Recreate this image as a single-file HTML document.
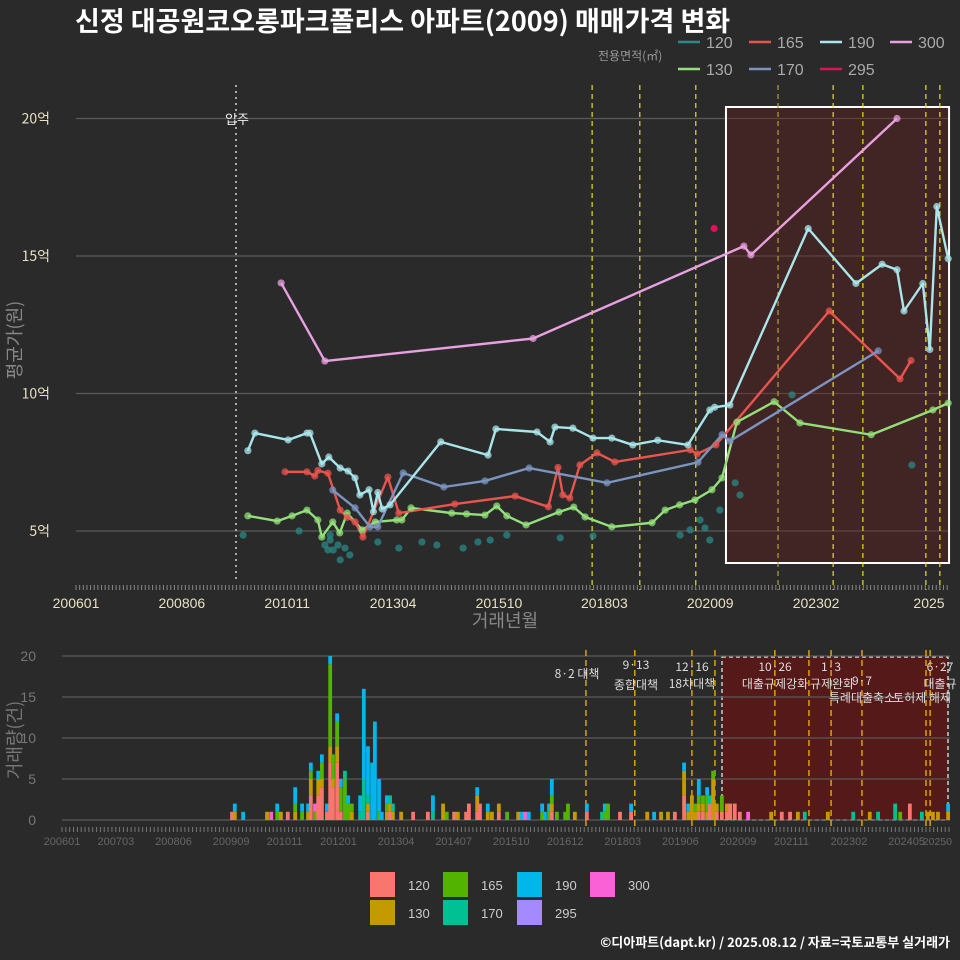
<!DOCTYPE html>
<html><head><meta charset="utf-8">
<style>
html,body{margin:0;padding:0;background:#2a2a2a;}
svg{display:block;font-family:"Liberation Sans","Noto Sans CJK KR",sans-serif;}
</style></head>
<body>
<svg id="c" width="960" height="960" viewBox="0 0 960 960">
<rect x="0" y="0" width="960" height="960" fill="#2a2a2a"/>
<text x="75" y="31" font-size="27" font-weight="bold" fill="#fff" font-family="'Noto Sans CJK KR',sans-serif">신정 대공원코오롱파크폴리스 아파트(2009) 매매가격 변화</text>
<g id="topPanel"></g>
<g id="botPanel"></g>
<text x="950" y="947" font-size="13" font-weight="bold" fill="#fff" text-anchor="end" font-family="'Noto Sans CJK KR',sans-serif">©디아파트(dapt.kr) / 2025.08.12 / 자료=국토교통부 실거래가</text>
</svg>
<script>
// ---------- price chart data ----------
const sizes = ["120","130","165","170","190","295","300"];
const lineColors = ["#2a8a86","#93e07a","#e8544e","#7b94c0","#a8e6ea","#e0105a","#e8a0e0"];
const priceTicks = [5,10,15,20];
const priceTickLabels = ["5억","10억","15억","20억"];
const xTickT = [2006.0,2008.42,2010.83,2013.25,2015.67,2018.08,2020.5,2022.92,2025.33];
const xTickLabels = ["200601","200806","201011","201304","201510","201803","202009","202302","2025"];
const t300 = [2010.69,2011.69,2016.45,2021.27,2021.43,2024.77];
const p300 = [14.02,11.18,12.0,15.36,15.04,20.0];
const t190 = [2009.93,2010.09,2010.85,2011.28,2011.35,2011.62,2011.78,2012.04,2012.22,2012.38,2012.49,2012.7,2012.8,2012.9,2013.0,2013.18,2014.34,2015.42,2015.6,2016.54,2016.84,2016.95,2017.36,2017.82,2018.25,2018.73,2019.3,2019.99,2020.49,2020.6,2020.95,2022.74,2023.83,2024.43,2024.77,2024.93,2025.36,2025.52,2025.68,2025.94];
const p190 = [7.92,8.56,8.31,8.56,8.56,7.44,7.69,7.29,7.18,6.93,6.31,6.5,5.7,6.4,5.8,5.95,8.24,7.76,8.71,8.6,8.24,8.78,8.74,8.38,8.38,8.13,8.3,8.13,9.4,9.5,9.58,16.0,14.0,14.7,14.5,13.0,14.0,11.6,16.8,14.9];
const t165 = [2010.78,2011.28,2011.46,2011.53,2011.76,2012.04,2012.2,2012.38,2012.56,2013.13,2013.38,2014.66,2016.04,2016.8,2017.02,2017.13,2017.29,2017.52,2017.91,2018.32,2020.04,2020.2,2020.63,2023.22,2024.84,2025.09];
const p165 = [7.15,7.15,7.0,7.2,7.1,5.76,5.5,5.33,4.78,6.96,5.65,5.98,6.27,5.88,7.31,6.31,6.2,7.4,7.84,7.51,7.95,7.8,8.13,13.0,10.53,11.2];
const t170 = [2011.87,2012.38,2012.72,2012.9,2013.48,2014.41,2015.35,2016.36,2018.14,2020.22,2020.77,2020.95,2024.34];
const p170 = [6.49,5.84,5.15,5.15,7.11,6.6,6.82,7.29,6.75,7.5,8.5,8.27,11.55];
const t130 = [2009.93,2010.6,2010.94,2011.28,2011.53,2011.62,2011.87,2012.03,2012.2,2012.54,2012.84,2013.33,2013.45,2013.66,2014.59,2014.93,2015.35,2015.62,2015.85,2016.29,2017.04,2017.38,2017.64,2018.25,2019.17,2019.47,2019.8,2020.15,2020.54,2020.77,2021.11,2021.96,2022.55,2024.18,2025.59,2025.94];
const p130 = [5.55,5.36,5.55,5.76,5.4,4.78,5.33,4.93,5.65,5.04,5.33,5.4,5.4,5.84,5.65,5.62,5.58,5.91,5.55,5.22,5.69,5.87,5.51,5.15,5.3,5.76,5.95,6.13,6.5,6.93,8.96,9.7,8.93,8.5,9.4,9.65];
const t120 = [2009.82,2011.1,2011.69,2011.81,2011.88,2011.99,2012.04,2012.15,2012.26,2011.76,2011.81,2012.9,2013.38,2013.91,2014.25,2014.85,2015.19,2015.47,2015.85,2017.07,2017.82,2019.81,2020.04,2020.27,2020.38,2020.49,2020.72,2021.07,2022.37,2021.18,2025.11];
const p120 = [4.85,5.0,4.49,4.67,4.31,4.49,3.95,4.38,4.13,4.31,4.85,4.6,4.38,4.6,4.49,4.38,4.6,4.67,4.85,4.75,4.82,4.85,5.04,5.4,5.11,4.67,5.76,6.75,9.95,6.31,7.4];
const t295 = [2020.59];
const p295 = [16.0];
const topEventT = [2017.8,2018.89,2020.17,2022.05,2023.31,2023.99,2025.43,2025.75];

// ---------- volume chart data ----------
const volTicks = [0,5,10,15,20];
const volTickLabels = ["0","5","10","15","20"];
const volXT = [2006.0,2007.17,2008.42,2009.67,2010.83,2012.0,2013.25,2014.5,2015.75,2016.92,2018.17,2019.42,2020.67,2021.83,2023.08,2024.33];
const volXLabels = ["200601","200703","200806","200909","201011","201201","201304","201407","201510","201612","201803","201906","202009","202111","202302","202405"];
const barT = [2009.69,2009.75,2009.93,2010.45,2010.54,2010.67,2010.75,2010.9,2011.06,2011.21,2011.34,2011.4,2011.49,2011.56,2011.64,2011.75,2011.82,2011.88,2011.97,2012.05,2012.14,2012.21,2012.29,2012.47,2012.55,2012.64,2012.73,2012.79,2012.88,2012.94,2013.05,2013.12,2013.18,2013.36,2013.62,2013.94,2014.05,2014.27,2014.35,2014.51,2014.59,2014.77,2014.83,2015.01,2015.07,2015.24,2015.33,2015.48,2015.66,2015.9,2015.98,2016.05,2016.13,2016.42,2016.48,2016.57,2016.63,2016.74,2016.92,2016.98,2017.13,2017.39,2017.72,2017.78,2017.85,2018.11,2018.35,2018.7,2018.85,2019.0,2019.15,2019.3,2019.5,2019.59,2019.67,2019.74,2019.82,2019.91,2020.0,2020.06,2020.13,2020.21,2020.32,2020.43,2020.5,2020.6,2020.71,2020.89,2021.39,2021.62,2021.8,2021.97,2022.12,2022.62,2023.17,2023.53,2023.71,2024.08,2024.19,2024.4,2024.66,2024.79,2024.9,2025.01,2025.23];
const v120 = [1,0,0,0,0,0,0,1,0,0,0,3,0,3,4,1,7,4,7,1,0,0,0,0,0,1,0,0,0,0,0,1,0,0,1,1,0,0,0,1,0,1,2,1,2,0,0,1,0,0,0,0,0,0,0,0,1,0,0,0,0,1,0,0,0,1,1,0,0,0,0,1,3,0,0,0,1,1,0,2,0,1,1,1,2,2,1,0,0,1,1,0,0,0,0,0,0,0,0,2,0,0,0,0,0];
const v130 = [0,1,0,1,0,0,1,0,1,0,1,2,0,2,1,0,2,1,2,0,0,0,1,0,0,1,0,0,0,0,1,1,1,1,0,0,0,2,0,0,1,0,0,2,0,1,1,1,0,1,0,0,0,0,0,0,1,0,0,0,1,0,0,0,0,0,0,1,0,1,1,0,3,1,3,1,1,1,1,0,5,1,0,1,0,0,0,0,1,0,0,1,0,1,0,1,0,0,0,0,0,1,1,1,1];
const v165 = [0,0,0,0,0,1,0,0,1,1,0,1,1,0,2,0,10,3,3,3,5,2,1,0,0,0,0,0,1,0,1,0,0,0,0,0,0,0,1,0,0,0,0,0,0,0,0,0,1,0,0,0,0,1,0,1,1,1,1,2,0,0,0,1,2,0,0,0,0,0,0,0,0,0,0,1,1,1,2,0,1,0,2,0,0,0,0,0,0,0,0,0,0,0,0,0,0,0,1,0,0,0,0,0,0];
const v170 = [0,0,0,0,0,0,0,0,0,0,0,0,0,0,0,0,0,0,0,0,1,0,0,1,5,1,0,0,0,0,0,1,1,0,0,0,1,0,0,0,0,0,0,0,0,0,0,0,0,0,0,0,0,0,0,0,0,0,0,0,0,0,1,0,0,0,0,0,0,0,0,0,0,0,0,0,0,0,0,1,0,0,0,0,0,0,0,0,0,0,0,0,1,0,1,0,1,2,0,0,1,0,0,0,0];
const v190 = [0,1,1,0,0,1,0,0,2,1,1,1,0,1,1,1,1,0,1,1,0,1,0,2,11,6,7,12,4,1,1,0,0,0,0,0,2,0,0,0,0,0,0,1,0,1,0,0,0,0,1,0,1,1,1,1,2,0,0,0,0,1,0,1,0,0,1,0,1,0,0,0,1,1,0,0,2,0,1,0,0,0,0,0,0,0,0,0,0,0,0,0,0,0,0,0,0,0,0,0,0,0,0,0,1];
const v295 = new Array(barT.length).fill(0);
const v300 = [0,0,0,0,1,0,0,0,0,0,0,0,1,0,0,0,0,0,0,0,0,0,0,0,0,0,0,0,0,0,0,0,0,0,0,0,0,0,0,0,0,0,0,0,0,0,0,0,0,0,0,1,0,0,0,0,0,0,0,0,0,0,0,0,0,0,0,0,0,0,0,0,0,0,0,0,0,0,0,0,0,0,0,0,0,0,0,1,0,0,0,0,0,0,0,0,0,0,0,0,0,0,0,0,0];
const barColors = ["#f8766d","#c49a00","#53b400","#00c094","#00b6eb","#a58aff","#fb61d7"];
const botEventT = [2017.37,2018.43,2019.67,2020.17,2021.47,2022.21,2022.69,2023.36,2024.75,2024.84];

const NS="http://www.w3.org/2000/svg";
function mk(parent,tag,attrs,text){const e=document.createElementNS(NS,tag);for(const k in attrs)e.setAttribute(k,attrs[k]);if(text!==undefined)e.textContent=text;parent.appendChild(e);return e;}
const KR="'Noto Sans CJK KR','Liberation Sans',sans-serif";

// ---------- top panel ----------
const topG=document.getElementById('topPanel');
const X=t=>76+(t-2006)*43.74;
const Y=v=>531-(v-5)*27.5;
priceTicks.forEach((v,i)=>{
  const g=mk(topG,'line',{x1:76,x2:950,y1:Y(v),y2:Y(v),stroke:'#5a5a5a','stroke-width':1.2});
  
  
  const l=mk(topG,'text',{x:50,y:Y(v)+5,'font-size':14,fill:'#e8e2c0','text-anchor':'end','font-family':KR},priceTickLabels[i]);
  
  
});
const rct=mk(topG,'rect',{x:X(2020.86),y:107,width:X(2025.96)-X(2020.86),height:456,fill:'rgba(110,25,25,0.35)',stroke:'#fff','stroke-width':2});


const mv=mk(topG,'line',{x1:236,x2:236,y1:85,y2:580,stroke:'#aaa','stroke-width':2,'stroke-dasharray':'2,4'});


const mvl=mk(topG,'text',{x:237,y:124,'font-size':13,fill:'#eee','text-anchor':'middle','font-family':KR},'입주');


topEventT.forEach((t,i)=>{
  const l=mk(topG,'line',{x1:X(t),x2:X(t),y1:85,y2:590,stroke:(i==3?'#a8a830':'#e8e020'),'stroke-width':1.2,'stroke-dasharray':'5,4'});
  
  
});
for(let m=0;m<=240;m++){
  const x=X(2006+m/12); if(x>950)break;
  mk(topG,'line',{x1:x,x2:x,y1:585,y2:590,stroke:'#888','stroke-width':1});
}
xTickT.forEach((t,i)=>{
  const l=mk(topG,'text',{x:i==8?929:X(t),y:608,'font-size':14,fill:'#e8e2c0','text-anchor':'middle'},xTickLabels[i]);
  
  
});
const xt=mk(topG,'text',{x:505,y:627,'font-size':18,fill:'#888','text-anchor':'middle','font-family':KR},'거래년월');


const yt=mk(topG,'text',{x:0,y:0,'font-size':18,fill:'#888','text-anchor':'middle','font-family':KR,transform:'translate(21,340) rotate(-90)'},'평균가(원)');


const allT=[t120,t130,t165,t170,t190,t295,t300], allP=[p120,p130,p165,p170,p190,p295,p300];
[1,2,3,4,6].forEach(k=>{
  const pts=allT[k].map((t,i)=>X(t)+','+Y(allP[k][i])).join(' ');
  const pl=mk(topG,'polyline',{points:pts,fill:'none',stroke:lineColors[k],'stroke-width':2.4,'stroke-linejoin':'round'});
  
  
});
[0,1,2,3,4,5,6].forEach(k=>{
  allT[k].forEach((t,i)=>{
    const c=mk(topG,'circle',{cx:X(t),cy:Y(allP[k][i]),r:3.6,fill:lineColors[k],'fill-opacity':k==5?1:0.75});
    
    
  });
});
const lt=mk(topG,'text',{x:598,y:60,'font-size':12,fill:'#999','font-family':KR},'전용면적(㎡)');


const legPos=[[678,42],[678,69],[749,42],[749,69],[820,42],[820,69],[890,42]];
sizes.forEach((s,k)=>{
  const [x,y]=legPos[k];
  const g=mk(topG,'g',{});
  
  
  mk(g,'line',{x1:x,x2:x+22,y1:y,y2:y,stroke:lineColors[k],'stroke-width':2.5});
  mk(g,'text',{x:x+28,y:y+6,'font-size':16,fill:'#aaa'},s);
});

// ---------- bottom panel ----------
const botG=document.getElementById('botPanel');
const BX=t=>62+(t-2006)*46.08;
const BY=v=>820-v*8.2;
const brct=mk(botG,'rect',{x:722,y:657,width:226,height:163,fill:'rgba(100,20,20,0.75)',stroke:'#ccc','stroke-width':1.5,'stroke-dasharray':'4,3'});


volTicks.forEach((v,i)=>{
  const g=mk(botG,'line',{x1:62,x2:950,y1:BY(v),y2:BY(v),stroke:'#5a5a5a','stroke-width':1.2});
  
  
  const l=mk(botG,'text',{x:36,y:BY(v)+5,'font-size':14,fill:'#777','text-anchor':'end'},volTickLabels[i]);
  
  
});
botEventT.forEach(t=>{
  const l=mk(botG,'line',{x1:BX(t),x2:BX(t),y1:650,y2:828,stroke:'#e0a000','stroke-width':1.5,'stroke-dasharray':'6,4'});
  
  
});
const vals=[v120,v130,v165,v170,v190,v295,v300];
barT.forEach((t,i)=>{
  let acc=0;
  for(let k=0;k<7;k++){
    const v=vals[k][i]; if(!v)continue;
    const r=mk(botG,'rect',{x:BX(t)-1.9,y:BY(acc+v),width:3.8,height:v*8.2,fill:barColors[k]});
    
    
    acc+=v;
  }
});
const evLabels=[[577,678,'8·2 대책'],[636,669,'9·13'],[636,689,'종합대책'],[692,671,'12·16'],[692,688,'18차대책'],[775,671,'10·26'],[775,688,'대출규제강화'],[831,671,'1·3'],[832,688,'규제완화'],[862,685,'9·7'],[862,702,'특례대출축소'],[922,702,'토허제 해제'],[940,671,'6·27'],[940,688,'대출규']];
evLabels.forEach(([x,y,s])=>{
  const l=mk(botG,'text',{x:x,y:y,'font-size':12,fill:'#ddd','text-anchor':'middle','font-family':KR},s);
  
  
});
for(let m=0;m<=236;m++){
  const x=BX(2006+m/12); if(x>950)break;
  mk(botG,'line',{x1:x,x2:x,y1:827,y2:832,stroke:'#777','stroke-width':1});
}
volXT.forEach((t,i)=>{
  const l=mk(botG,'text',{x:BX(t),y:845,'font-size':11,fill:'#666','text-anchor':'middle'},volXLabels[i]);
  
  
});
const lastL=mk(botG,'text',{x:952,y:845,'font-size':10.5,fill:'#666','text-anchor':'end'},'20250');


const byt=mk(botG,'text',{x:0,y:0,'font-size':18,fill:'#777','text-anchor':'middle','font-family':KR,transform:'translate(21,740) rotate(-90)'},'거래량(건)');


const bl=[[370,872],[370,900],[443,872],[443,900],[517,872],[517,900],[590,872]];
sizes.forEach((s,k)=>{
  const [x,y]=bl[k];
  const g=mk(botG,'g',{});
  
  
  mk(g,'rect',{x:x,y:y,width:25,height:25,fill:barColors[k]});
  mk(g,'text',{x:x+38,y:y+18,'font-size':13,fill:'#ccc'},s);
});
</script>
</body></html>
